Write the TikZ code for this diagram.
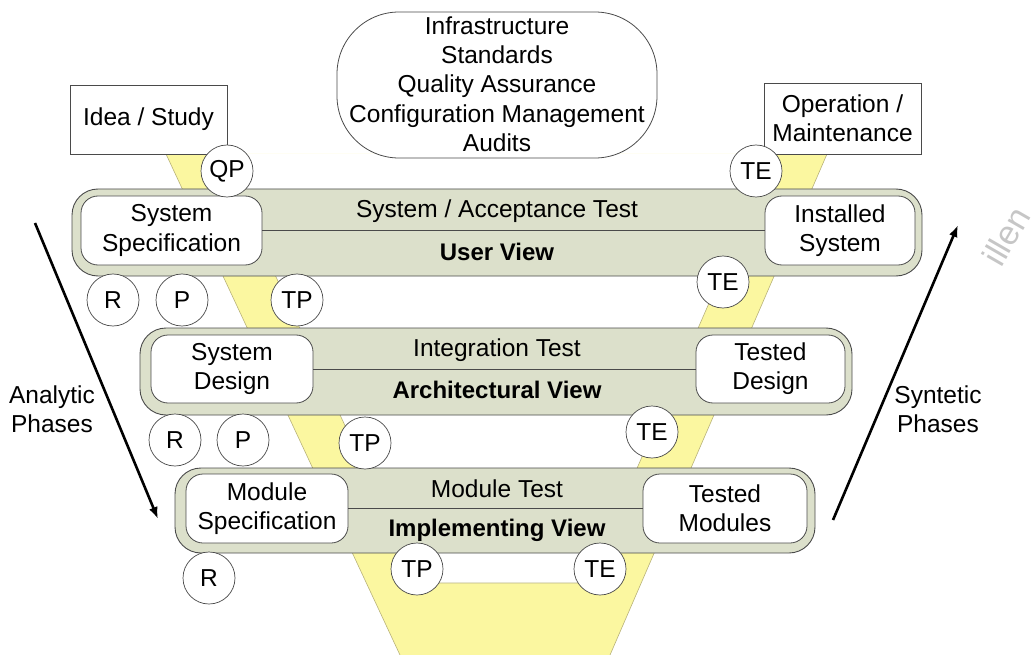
\documentclass[tikz,border=0pt]{standalone}
\usepackage{fontspec}
\setmainfont{Liberation Sans}
\usetikzlibrary{arrows.meta}
\definecolor{funnel}{HTML}{FBF7A0}
\definecolor{funneledge}{HTML}{B8B27A}
\definecolor{levelfill}{HTML}{DCE0CB}
\definecolor{edgegray}{HTML}{4A4A4A}
\begin{document}
\begin{tikzpicture}[x=1pt,y=-1pt,
  every node/.style={font=\fontsize{24.5}{29.3}\selectfont, inner sep=0pt},
  plainbox/.style={draw=edgegray, line width=0.8pt, fill=white, align=center},
  levelbox/.style={draw=edgegray, line width=0.9pt, fill=levelfill, rounded corners=26pt},
  innerbox/.style={draw=edgegray, line width=0.8pt, fill=white, rounded corners=17pt, align=center},
  marker/.style={circle, draw=edgegray, line width=0.7pt, fill=white, minimum size=52pt},
  phasearrow/.style={line width=2.6pt, -{Latex[length=12pt,width=9pt]}},
  divider/.style={draw=edgegray, line width=0.8pt}
]
\useasboundingbox (0,0) rectangle (1036,655);

% watermark
\node[text=gray!45, rotate=60, font=\fontsize{34}{34}\selectfont] (wm) at (1006,236) {illen};

% yellow funnel
\fill[funnel] (166,154) -- (827,154) -- (610,655) -- (400,655) -- cycle;
\draw[funneledge, line width=0.6pt] (166,154) -- (400,655);
\draw[funneledge, line width=0.6pt] (827,154) -- (610,655);
\fill[white] (219,154) -- (418,583) -- (587,583) -- (774,154) -- cycle;
\draw[funneledge, line width=0.6pt] (219,154) -- (418,583) -- (587,583) -- (774,154);

% top pill
\node[draw=edgegray, line width=0.8pt, fill=white, rounded corners=62pt,
      minimum width=320pt, minimum height=146pt] (pill) at (497,85) {};
\node[align=center] (pilltext) at (497,84) {Infrastructure\\Standards\\Quality Assurance\\Configuration Management\\Audits};

% start / end boxes
\node[plainbox, minimum width=157pt, minimum height=69pt] (idea) at (148.5,119.5) {Idea / Study};
\node[plainbox, minimum width=157pt, minimum height=71pt] (oper) at (842.5,118.5) {Operation /\\Maintenance};

% level 1
\node[levelbox, minimum width=850pt, minimum height=87pt] (L1) at (497,232.5) {};
\node[innerbox, minimum width=181pt, minimum height=69pt] (sysspec) at (171.5,230.5) {System\\Specification};
\node[innerbox, minimum width=150pt, minimum height=69pt] (inst) at (840,230.5) {Installed\\System};
\draw[divider] (sysspec.east) -- (inst.west);
\node (t1) at (497,211) {System / Acceptance Test};
\node[font=\fontsize{24}{29}\selectfont\bfseries] (v1) at (497,252) {User View};

% level 2
\node[levelbox, minimum width=712pt, minimum height=87pt] (L2) at (496,371.5) {};
\node[innerbox, minimum width=162pt, minimum height=68pt] (sysdes) at (232,369) {System\\Design};
\node[innerbox, minimum width=149pt, minimum height=68pt] (tdes) at (770.5,369) {Tested\\Design};
\draw[divider] (sysdes.east) -- (tdes.west);
\node (t2) at (497,350) {Integration Test};
\node[font=\fontsize{24}{29}\selectfont\bfseries] (v2) at (497,390) {Architectural View};

% level 3
\node[levelbox, minimum width=640pt, minimum height=85pt] (L3) at (495,510.5) {};
\node[innerbox, minimum width=162pt, minimum height=69pt] (modspec) at (267,508.5) {Module\\Specification};
\node[innerbox, minimum width=164pt, minimum height=69pt] (tmod) at (725,508.5) {Tested\\Modules};
\draw[divider] (modspec.east) -- (tmod.west);
\node (t3) at (497,489) {Module Test};
\node[font=\fontsize{24}{29}\selectfont\bfseries] (v3) at (497,530) {Implementing View};

% markers
\node[marker] (qp) at (227,171) {QP};
\node[marker] (te0) at (756,171) {TE};
\node[marker] (r1) at (113,300) {R};
\node[marker] (p1) at (182,300) {P};
\node[marker] (tp1) at (297,300) {TP};
\node[marker] (te1) at (723,282) {TE};
\node[marker] (r2) at (175,440) {R};
\node[marker] (p2) at (243,440) {P};
\node[marker] (tp2) at (365,443) {TP};
\node[marker] (te2) at (652,432) {TE};
\node[marker] (r3) at (209,578) {R};
\node[marker] (tp3) at (417,569) {TP};
\node[marker] (te3) at (600,569) {TE};

% phase arrows
\coordinate (aS) at (35,223);
\coordinate (aE) at (158,519);
\draw[phasearrow] (aS) -- (aE);
\node[align=center] (ana) at (52,409) {Analytic\\Phases};
\coordinate (sS) at (833,520);
\coordinate (sE) at (958,225);
\draw[phasearrow] (sS) -- (sE);
\node[align=center] (syn) at (938,409) {Syntetic\\Phases};
\end{tikzpicture}
\end{document}
